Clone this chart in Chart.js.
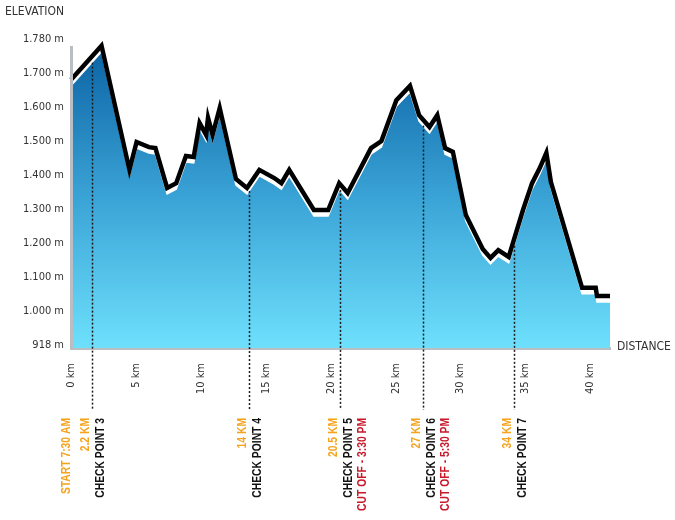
<!DOCTYPE html>
<html><head><meta charset="utf-8">
<script src="https://cdn.jsdelivr.net/npm/chart.js@4.4.1/dist/chart.umd.min.js"></script>
<style>html,body{margin:0;padding:0;background:#fff}canvas{display:block}</style>
</head><body>
<canvas id="c" width="675" height="520"></canvas>
<script>
// ---- data ----
const distanceKm = [0, 2.35, 4.5, 5.05, 6.0, 6.5, 7.4, 8.1, 8.85, 9.45, 9.9, 10.4, 10.55, 10.9, 11.45, 12.7, 13.55, 14.5, 15.65, 16.2, 16.8, 18.7, 19.8, 20.65, 21.3, 23.1, 23.9, 25.05, 26.1, 26.8, 27.6, 28.2, 28.8, 29.4, 30.4, 31.7, 32.3, 32.9, 33.7, 34.8, 35.5, 36.1, 36.6, 36.95, 39.35, 40.4, 40.5, 41.5];
const elevationM = [1680, 1780, 1415, 1497, 1482, 1479, 1362, 1376, 1456, 1453, 1553, 1518, 1568, 1518, 1597, 1388, 1362, 1415, 1391, 1376, 1415, 1297, 1297, 1376, 1347, 1479, 1500, 1620, 1662, 1576, 1541, 1576, 1479, 1468, 1282, 1182, 1156, 1179, 1159, 1297, 1376, 1421, 1465, 1379, 1068, 1068, 1044, 1044];

const yTickValues = [900, 1000, 1100, 1200, 1300, 1400, 1500, 1600, 1700, 1800];
const yTickLabels = ['918 m', '1.000 m', '1.100 m', '1.200 m', '1.300 m', '1.400 m', '1.500 m', '1.600 m', '1.700 m', '1.780 m'];
const xTickValues = [0, 5, 10, 15, 20, 25, 30, 35, 40];
const xTickLabels = ['0 km', '5 km', '10 km', '15 km', '20 km', '25 km', '30 km', '35 km', '40 km'];

const checkpointKm = [1.6, 13.7, 20.7, 27.1, 34.1];
const checkpointDist = ['2.2 KM', '14 KM', '20.5 KM', '27 KM', '34 KM'];
const checkpointName = ['CHECK POINT 3', 'CHECK POINT 4', 'CHECK POINT 5', 'CHECK POINT 6', 'CHECK POINT 7'];
const checkpointCutoff = ['', '', 'CUT OFF - 3:30 PM', 'CUT OFF - 5:30 PM', ''];
const startLabel = 'START 7:30 AM';
const yAxisTitle = 'ELEVATION';
const xAxisTitle = 'DISTANCE';

// ---- chart ----
const points = distanceKm.map((d, i) => ({x: d, y: elevationM[i]}));
const Y_MIN = 891, Y_MAX = 1776.5, FILL_SHIFT = 17.6;
const tickFont = {family: '"DejaVu Sans Condensed", "DejaVu Sans", sans-serif', size: 11};
const annoFont = 'bold 12px "Liberation Sans", Arial, sans-serif';
const NARROW = 0.86;
const ORANGE = '#f5a31c', RED = '#c8192b', INK = '#111';

function elevAt(km) {
  for (let i = 0; i < distanceKm.length - 1; i++) {
    if (km >= distanceKm[i] && km <= distanceKm[i + 1]) {
      const t = (km - distanceKm[i]) / (distanceKm[i + 1] - distanceKm[i]);
      return elevationM[i] + t * (elevationM[i + 1] - elevationM[i]);
    }
  }
  return elevationM[elevationM.length - 1];
}

function vText(ctx, text, x, yTop, color) {
  ctx.save();
  ctx.translate(x, yTop);
  ctx.rotate(-Math.PI / 2);
  ctx.scale(NARROW, 1);
  ctx.fillStyle = color;
  ctx.font = annoFont;
  ctx.textAlign = 'right';
  ctx.textBaseline = 'middle';
  ctx.fillText(text, 0, 0);
  ctx.restore();
}

const annoPlugin = {
  id: 'anno',
  afterDatasetsDraw(chart) {
    const {ctx, chartArea, scales} = chart;
    const xs = scales.x, y2 = scales.y2;
    ctx.save();
    ctx.strokeStyle = '#1a1a1a';
    ctx.lineWidth = 1.5;
    ctx.setLineDash([2, 2]);
    checkpointKm.forEach(km => {
      const px = Math.round(xs.getPixelForValue(km)) + 0.5;
      const top = y2.getPixelForValue(elevAt(km));
      ctx.beginPath();
      ctx.moveTo(px, top);
      ctx.lineTo(px, chartArea.bottom + 62);
      ctx.stroke();
    });
    ctx.restore();
  },
  afterDraw(chart) {
    const {ctx, chartArea, scales} = chart;
    const xs = scales.x;
    const textTop = chartArea.bottom + 70;
    checkpointKm.forEach((km, i) => {
      const px = xs.getPixelForValue(km);
      vText(ctx, checkpointDist[i], px - 6.5, textTop, ORANGE);
      vText(ctx, checkpointName[i], px + 8.5, textTop, INK);
      if (checkpointCutoff[i]) vText(ctx, checkpointCutoff[i], px + 22.5, textTop, RED);
    });
    vText(ctx, startLabel, chartArea.left - 4, textTop, ORANGE);
    ctx.save();
    ctx.fillStyle = '#333';
    ctx.font = '12px "DejaVu Sans Condensed", "DejaVu Sans", sans-serif';
    ctx.textBaseline = 'middle';
    ctx.textAlign = 'left';
    ctx.fillText(yAxisTitle, 5, 12);
    ctx.fillText(xAxisTitle, chartArea.right + 7, chartArea.bottom - 1);
    ctx.restore();
  }
};

new Chart(document.getElementById('c'), {
  type: 'line',
  data: {
    datasets: [
      {
        data: points,
        yAxisID: 'y',
        borderColor: '#000',
        borderWidth: 4.5,
        borderJoinStyle: 'miter',
        pointRadius: 0,
        tension: 0,
        fill: false,
        clip: false
      },
      {
        data: points,
        yAxisID: 'y2',
        borderColor: '#fff',
        borderWidth: 1.5,
        pointRadius: 0,
        tension: 0,
        fill: 'start',
        backgroundColor: (c) => {
          const ca = c.chart.chartArea;
          if (!ca) return '#3aa2d5';
          const g = c.chart.ctx.createLinearGradient(0, ca.top, 0, ca.bottom);
          g.addColorStop(0, '#0c63a4');
          g.addColorStop(0.5, '#3aa3d6');
          g.addColorStop(1, '#6ee0fc');
          return g;
        }
      }
    ]
  },
  options: {
    responsive: false,
    animation: false,
    events: [],
    layout: {padding: {top: 47, right: 65, left: 0, bottom: 0}},
    plugins: {legend: {display: false}, tooltip: {enabled: false}, title: {display: false}},
    scales: {
      x: {
        type: 'linear', min: 0, max: 41.5,
        grid: {display: false, drawTicks: false},
        border: {display: true, color: '#babdc1', width: 3},
        afterFit: s => { s.height = 172; },
        afterBuildTicks: s => { s.ticks = xTickValues.map(v => ({value: v})); },
        ticks: {
          autoSkip: false, minRotation: 90, maxRotation: 90, padding: 15,
          color: '#333', font: tickFont,
          callback: (v) => xTickLabels[xTickValues.indexOf(v)]
        }
      },
      y: {
        type: 'linear', min: Y_MIN, max: Y_MAX,
        grid: {display: false, drawTicks: false},
        border: {display: true, color: '#babdc1', width: 3, z: 1},
        afterFit: s => { s.width = 71; },
        afterBuildTicks: s => { s.ticks = yTickValues.map(v => ({value: v})); },
        ticks: {
          autoSkip: false, padding: 7, color: '#333', font: tickFont,
          callback: (v) => yTickLabels[yTickValues.indexOf(v)]
        }
      },
      y2: {
        type: 'linear', display: false, min: Y_MIN + FILL_SHIFT, max: Y_MAX + FILL_SHIFT
      }
    }
  },
  plugins: [annoPlugin]
});
</script>
</body></html>
